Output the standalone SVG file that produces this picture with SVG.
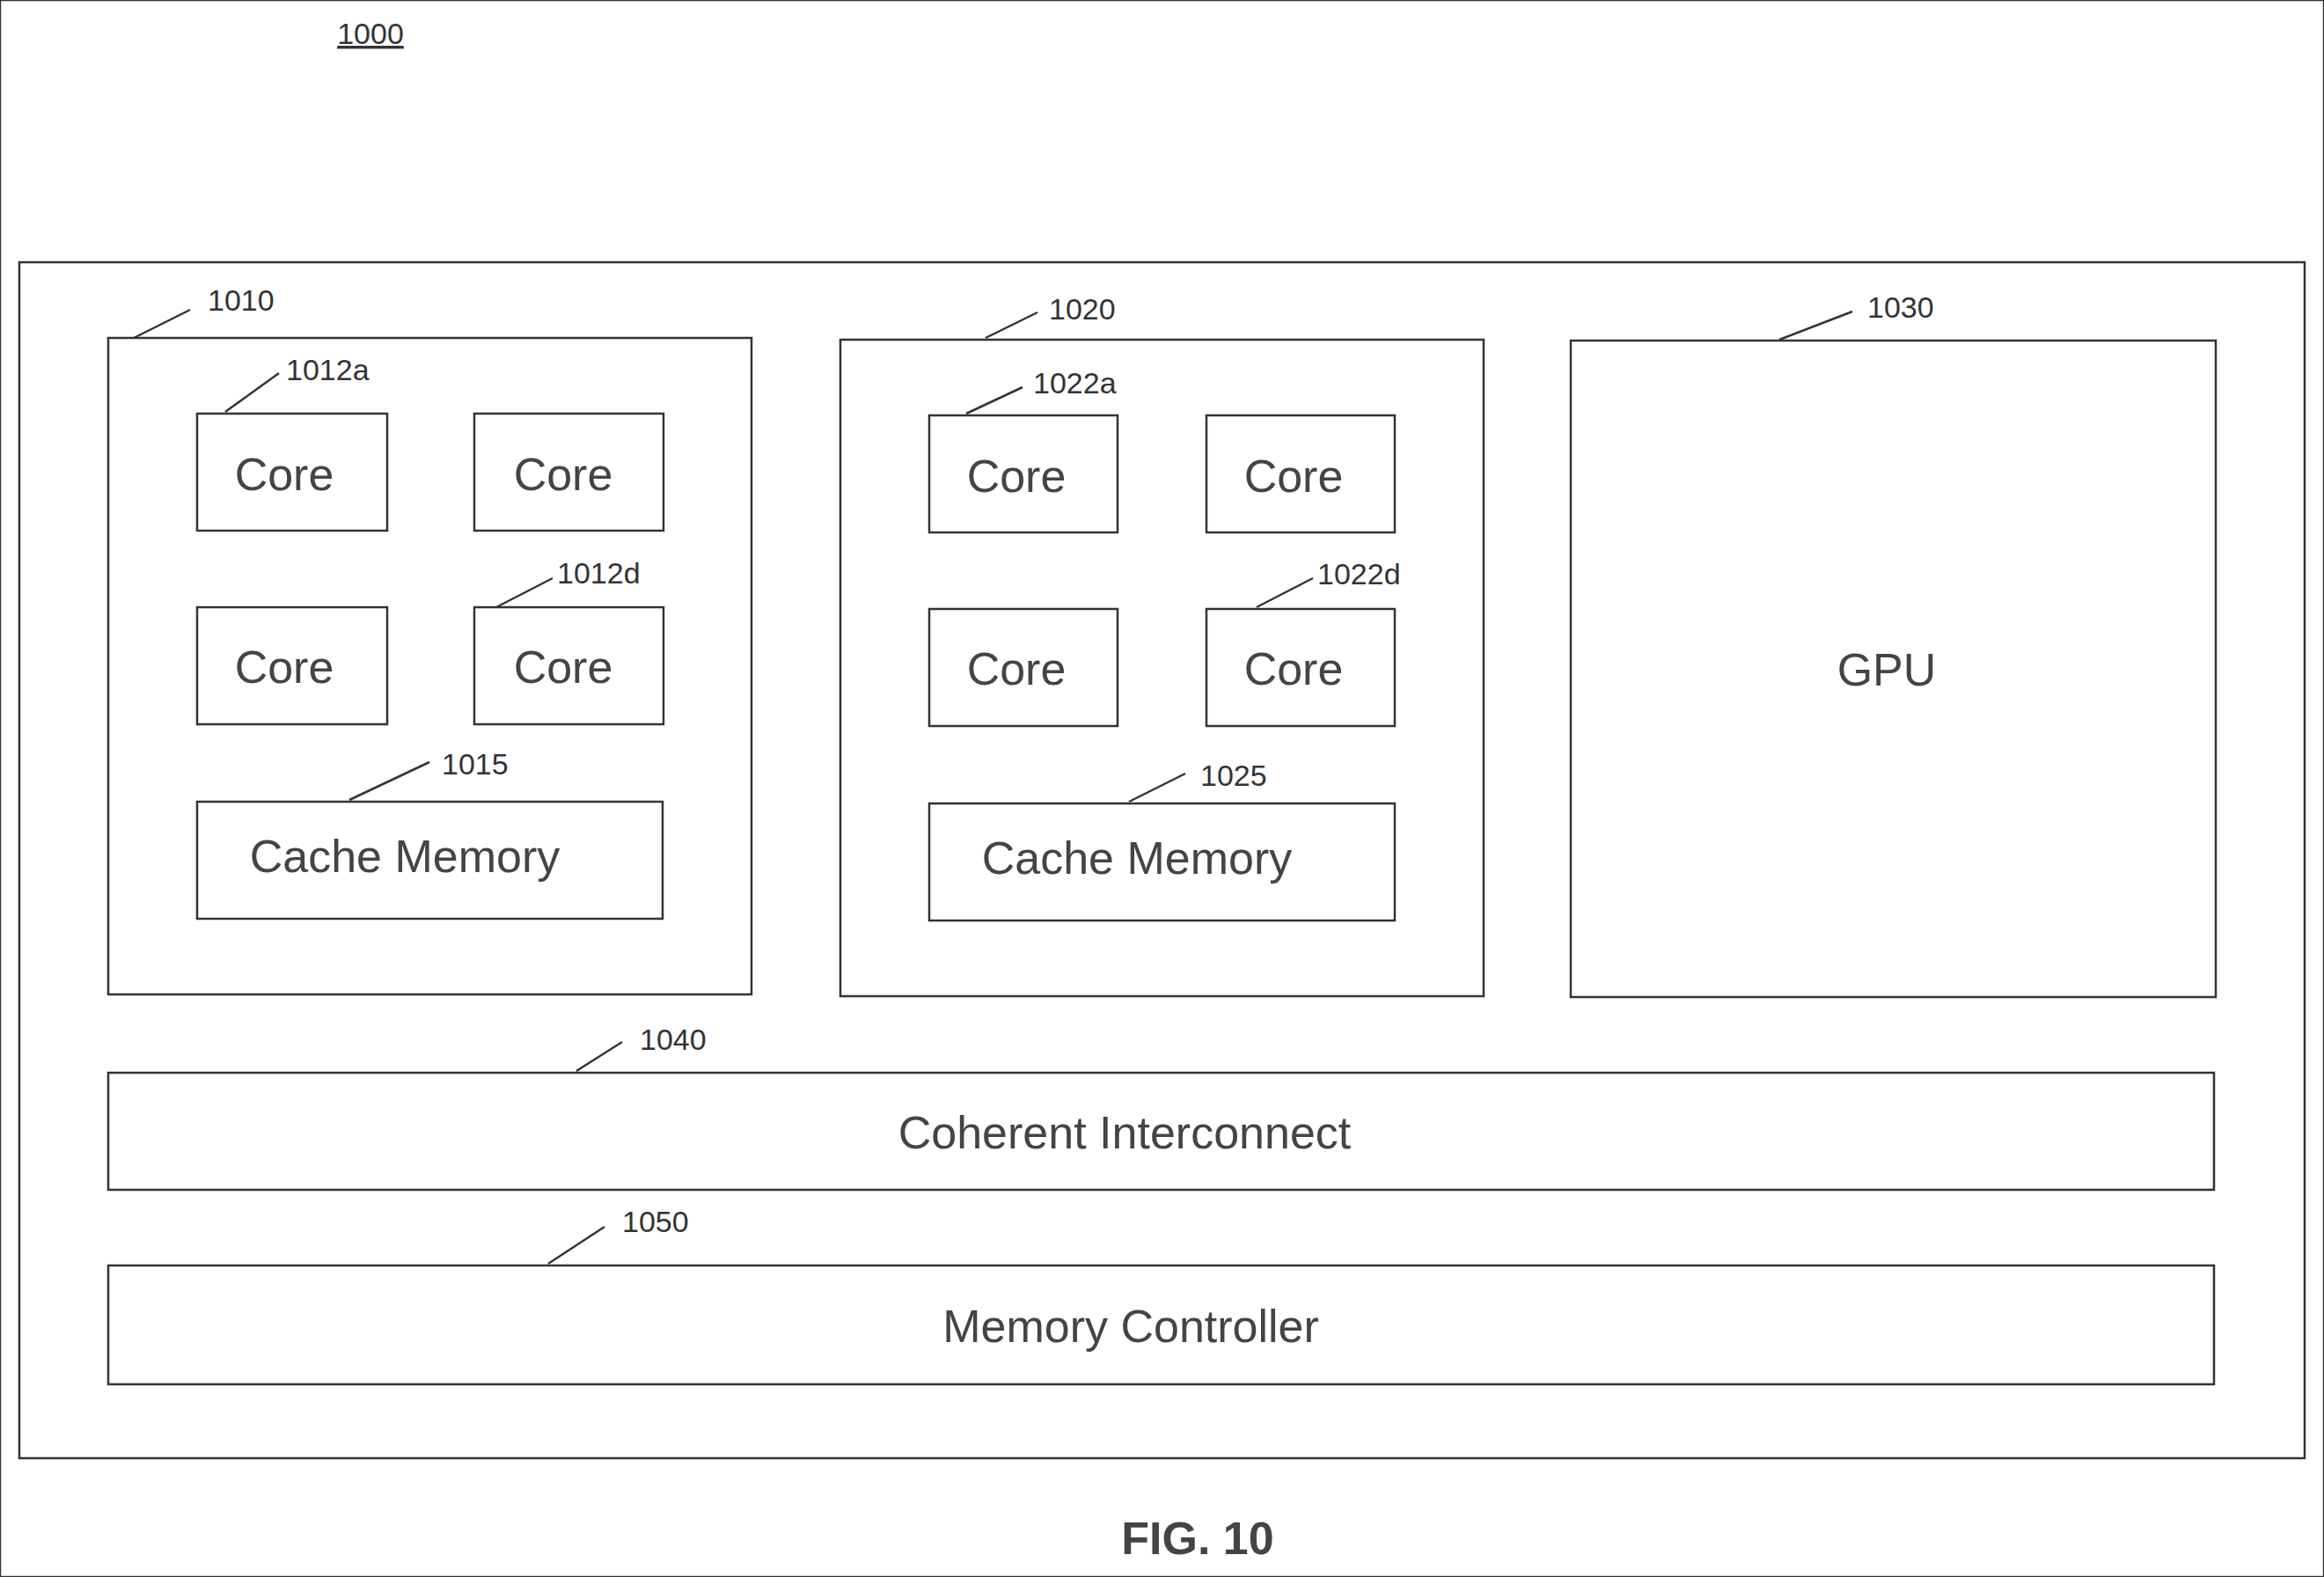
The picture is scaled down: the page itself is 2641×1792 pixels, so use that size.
<svg xmlns="http://www.w3.org/2000/svg" width="2641" height="1792" viewBox="0 0 2641 1792">
<style>
rect{fill:#fff;stroke:#333;stroke-width:2.5}
.t{font-family:"Liberation Sans",Arial,sans-serif;font-size:52px;fill:#444;text-anchor:middle}
.l{font-family:"Liberation Sans",Arial,sans-serif;font-size:34px;fill:#333}
line{stroke:#333;stroke-width:2.5}
</style>
<rect width="2641" height="1792" fill="#fff" stroke="none"/>
<text class="l" x="421" y="50" text-anchor="middle" font-size="44" text-decoration="underline">1000</text>
<g id="outer"><rect x="22" y="298" width="2597" height="1359"/></g>
<g id="n1010"><rect x="123" y="384" width="731" height="746"/><text class="l" x="236" y="353">1010</text></g>
<g id="n1012a"><rect x="224" y="470" width="216" height="133"/><text class="t" x="323" y="557">Core</text><text class="l" x="325" y="432">1012a</text></g>
<g id="n1012b"><rect x="539" y="470" width="215" height="133"/><text class="t" x="640" y="557">Core</text></g>
<g id="n1012c"><rect x="224" y="690" width="216" height="133"/><text class="t" x="323" y="776">Core</text></g>
<g id="n1012d"><rect x="539" y="690" width="215" height="133"/><text class="t" x="640" y="776">Core</text><text class="l" x="633" y="663">1012d</text></g>
<g id="n1015"><rect x="224" y="911" width="529" height="133"/><text class="t" x="460" y="991">Cache Memory</text><text class="l" x="502" y="880">1015</text></g>
<g id="n1020"><rect x="955" y="386" width="731" height="746"/><text class="l" x="1192" y="363">1020</text></g>
<g id="n1022a"><rect x="1056" y="472" width="214" height="133"/><text class="t" x="1155" y="559">Core</text><text class="l" x="1174" y="447">1022a</text></g>
<g id="n1022b"><rect x="1371" y="472" width="214" height="133"/><text class="t" x="1470" y="559">Core</text></g>
<g id="n1022c"><rect x="1056" y="692" width="214" height="133"/><text class="t" x="1155" y="778">Core</text></g>
<g id="n1022d"><rect x="1371" y="692" width="214" height="133"/><text class="t" x="1470" y="778">Core</text><text class="l" x="1497" y="664">1022d</text></g>
<g id="n1025"><rect x="1056" y="913" width="529" height="133"/><text class="t" x="1292" y="993">Cache Memory</text><text class="l" x="1364" y="893">1025</text></g>
<g id="n1030"><rect x="1785" y="387" width="733" height="746"/><text class="t" x="2144" y="779">GPU</text><text class="l" x="2122" y="361">1030</text></g>
<g id="n1040"><rect x="123" y="1219" width="2393" height="133"/><text class="t" x="1278" y="1305">Coherent Interconnect</text><text class="l" x="727" y="1193">1040</text></g>
<g id="n1050"><rect x="123" y="1438" width="2393" height="135"/><text class="t" x="1285" y="1525">Memory Controller</text><text class="l" x="707" y="1400">1050</text></g>
<g id="connectors">
<line x1="152" y1="384" x2="216" y2="352"/>
<line x1="256" y1="468" x2="317" y2="424"/>
<line x1="564" y1="690" x2="628" y2="657"/>
<line x1="397" y1="909" x2="488" y2="866"/>
<line x1="1120" y1="384" x2="1179" y2="355"/>
<line x1="1098" y1="470" x2="1162" y2="440"/>
<line x1="1428" y1="690" x2="1492" y2="657"/>
<line x1="1283" y1="911" x2="1347" y2="879"/>
<line x1="2022" y1="386" x2="2105" y2="354"/>
<line x1="655" y1="1217" x2="707" y2="1184"/>
<line x1="623" y1="1436" x2="687" y2="1394"/>
</g>
<text class="t" x="1361" y="1766" font-size="60" font-weight="bold" fill="#555">FIG. 10</text>
</svg>
